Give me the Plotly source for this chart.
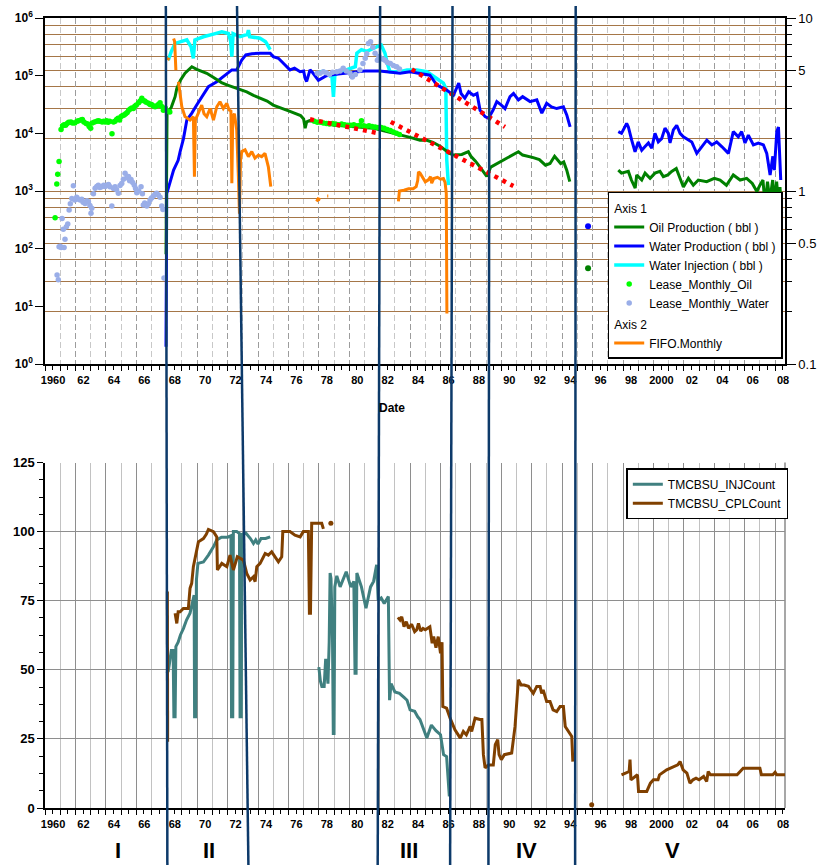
import plotly.graph_objects as go

FONT = "Liberation Sans, Arial, sans-serif"

# ============================ DATA ============================
# ---- Top panel, Axis 1 (log scale, bbl) ----
oil_prod_a = [(1967.95, 80), (1968.02, 22400), (1968.3, 28200), (1968.55, 43200), (1968.66, 60300),
              (1968.9, 83200), (1969.2, 110000), (1969.65, 143000), (1969.97, 129000), (1970.3, 120000),
              (1970.63, 110000), (1971.0, 95500), (1971.29, 84100), (1971.6, 75900), (1971.95, 69200),
              (1972.3, 64600), (1972.6, 60300), (1973.0, 56200), (1973.26, 52500), (1973.7, 45700),
              (1974.13, 40700), (1974.6, 36300), (1975.0, 30900), (1975.35, 28200), (1975.7, 26300),
              (1976.1, 24000), (1976.5, 21900), (1976.8, 20400), (1977.0, 17800), (1977.1, 12300),
              (1977.2, 15800), (1977.4, 16600), (1978.0, 15800), (1978.5, 14800), (1979.0, 13800),
              (1979.5, 13500), (1980.0, 13200), (1980.5, 12900), (1981.15, 12600), (1981.6, 12300),
              (1982.0, 11500), (1982.5, 10700), (1983.0, 10000), (1983.34, 9300), (1984.0, 8500),
              (1984.65, 7600), (1985.1, 7600), (1985.5, 7000), (1986.0, 5900), (1986.6, 4500),
              (1986.85, 4200), (1987.4, 4300), (1987.83, 4800), (1988.0, 4000), (1988.3, 3300),
              (1988.6, 2600), (1989.04, 1800), (1989.3, 2600), (1989.9, 3200), (1990.3, 3600),
              (1990.6, 4000), (1991.12, 4800), (1991.4, 4200), (1991.8, 4000), (1992.1, 3800),
              (1992.5, 3500), (1992.9, 2800), (1993.2, 3000), (1993.5, 4000), (1993.9, 3000),
              (1994.1, 3200), (1994.3, 2300), (1994.5, 1450)]
oil_prod_b = [(1997.69, 2300), (1997.9, 2040), (1998.35, 2190), (1998.55, 1550), (1998.8, 1120),
              (1998.9, 1900), (1999.23, 1550), (1999.45, 2040), (1999.78, 1660), (2000.1, 2040),
              (2000.43, 2190), (2000.65, 1780), (2000.95, 1900), (2001.2, 2190), (2001.5, 2450),
              (2001.75, 1660), (2001.97, 1170), (2002.3, 1660), (2002.62, 1260), (2002.95, 1550),
              (2003.5, 1450), (2004.0, 1660), (2004.38, 1550), (2004.8, 1260), (2005.25, 1900),
              (2005.7, 1550), (2006.13, 1660), (2006.5, 1350), (2006.8, 980), (2007.0, 1260),
              (2007.2, 1550), (2007.34, 575), (2007.5, 1450), (2007.65, 690), (2007.84, 1550),
              (2007.98, 620), (2008.1, 1450), (2008.2, 690), (2008.32, 1170), (2008.43, 410)]
oil_prod_lone = [(1995.7, 46)]

water_prod_a = [(1967.95, 2), (1968.0, 900), (1968.45, 2300), (1968.75, 3400), (1968.88, 4800),
                (1969.1, 8100), (1969.32, 17000), (1969.65, 22400), (1969.97, 30900), (1970.3, 43200),
                (1970.74, 64600), (1971.29, 78500), (1971.83, 102000), (1972.28, 126000), (1972.6, 126000),
                (1972.93, 186000), (1973.2, 229000), (1973.6, 240000), (1974.13, 245000), (1974.8, 245000),
                (1975.0, 214000), (1975.34, 200000), (1975.78, 153000), (1976.1, 126000), (1976.4, 135000),
                (1976.77, 117000), (1977.0, 120000), (1977.1, 89100), (1977.2, 79400), (1977.42, 126000),
                (1977.6, 112000), (1977.97, 83000), (1978.5, 100000), (1979.0, 105000), (1980.0, 112000),
                (1981.0, 120000), (1982.0, 120000), (1983.0, 112000), (1983.34, 110000), (1984.0, 117000),
                (1984.6, 110000), (1985.3, 102000), (1985.75, 69200), (1986.4, 56200), (1986.85, 45700),
                (1987.2, 74100), (1987.35, 49000), (1987.6, 40700), (1987.85, 52500), (1988.16, 45700),
                (1988.4, 49000), (1988.6, 25100), (1988.93, 19500), (1989.15, 18200), (1989.45, 25100),
                (1989.7, 35500), (1990.0, 30900), (1990.24, 26900), (1990.57, 43200), (1990.8, 49000),
                (1991.12, 38000), (1991.4, 43200), (1991.89, 35500), (1992.33, 38000), (1992.66, 22400),
                (1992.98, 33100), (1993.3, 28800), (1993.64, 26900), (1994.08, 28800), (1994.3, 20900),
                (1994.52, 12900)]
water_prod_b = [(1997.69, 10700), (1997.9, 10000), (1998.24, 14800), (1998.35, 12900), (1998.57, 7600),
                (1998.79, 4800), (1999.0, 7100), (1999.23, 5100), (1999.45, 5900), (1999.67, 6800),
                (1999.89, 5500), (2000.1, 10000), (2000.32, 7100), (2000.54, 8100), (2000.76, 12300),
                (2000.98, 10000), (2001.09, 6800), (2001.31, 11500), (2001.53, 13800), (2001.75, 10000),
                (2001.97, 8700), (2002.19, 8100), (2002.52, 7100), (2002.85, 4500), (2003.18, 5900),
                (2003.51, 7600), (2003.84, 6300), (2004.16, 7100), (2004.49, 5900), (2004.93, 4500),
                (2005.25, 10700), (2005.58, 8700), (2005.8, 10700), (2006.02, 6800), (2006.24, 9300),
                (2006.57, 6300), (2006.9, 6800), (2007.23, 6300), (2007.45, 4500), (2007.67, 1900),
                (2007.85, 4000), (2007.95, 2300), (2008.11, 10700), (2008.22, 12900), (2008.37, 1550)]
water_prod_lone = [(1995.7, 245)]

water_inj_a = [(1968.1, 186000), (1968.3, 263000), (1968.55, 363000), (1968.9, 389000), (1969.32, 417000),
               (1969.6, 316000), (1969.75, 200000), (1969.85, 417000), (1970.41, 473000), (1971.07, 525000),
               (1971.62, 575000), (1972.05, 537000), (1972.2, 400000), (1972.28, 214000), (1972.36, 537000),
               (1972.82, 473000), (1973.1, 501000), (1973.3, 520000), (1973.37, 617000), (1973.45, 473000),
               (1974.13, 447000), (1974.5, 389000), (1974.8, 282000)]
water_inj_b = [(1977.9, 112000), (1978.3, 120000), (1978.7, 100000), (1978.85, 110000), (1978.96, 42700),
               (1979.05, 100000), (1979.18, 110000), (1979.8, 126000), (1980.4, 143000), (1980.5, 245000),
               (1980.8, 282000), (1981.15, 263000), (1981.5, 295000), (1981.8, 316000), (1982.1, 339000),
               (1982.35, 245000), (1982.5, 162000), (1982.68, 117000), (1983.34, 117000), (1983.8, 126000),
               (1984.44, 126000), (1985.1, 117000), (1985.75, 89100), (1986.19, 74100), (1986.35, 60300),
               (1986.41, 3470), (1986.52, 1260)]

lease_oil = [(1960.66, 345), (1960.77, 1320), (1960.83, 1950), (1960.92, 3240), (1961.05, 11700),
             (1961.15, 13500), (1961.25, 14100), (1961.35, 13800), (1961.45, 14800), (1961.55, 15500),
             (1961.7, 15800), (1961.8, 15100), (1961.95, 15100), (1962.1, 16200), (1962.2, 16600),
             (1962.35, 17000), (1962.45, 17400), (1962.55, 15800), (1962.7, 14800), (1962.8, 14500),
             (1962.9, 13200), (1963.0, 12300), (1963.1, 15100), (1963.25, 15800), (1963.4, 16200),
             (1963.5, 16600), (1963.6, 16200), (1963.75, 15800), (1963.85, 16200), (1963.95, 15800),
             (1964.05, 16600), (1964.15, 15500), (1964.25, 16200), (1964.4, 9800), (1964.5, 15800),
             (1964.6, 16200), (1964.7, 17400), (1964.8, 18200), (1964.9, 17000), (1965.0, 19500),
             (1965.1, 20400), (1965.2, 20900), (1965.3, 21900), (1965.4, 22900), (1965.5, 25100),
             (1965.6, 26300), (1965.7, 27500), (1965.8, 26900), (1965.9, 29500), (1966.0, 30900),
             (1966.15, 33900), (1966.25, 36300), (1966.36, 40700), (1966.45, 37200), (1966.55, 36300),
             (1966.65, 34700), (1966.8, 33100), (1966.9, 31600), (1967.0, 31600), (1967.1, 30200),
             (1967.23, 28800), (1967.35, 30200), (1967.45, 31600), (1967.56, 33900), (1967.65, 29500),
             (1967.78, 25100), (1967.9, 27500), (1968.05, 24500), (1968.2, 23400),
             (1977.7, 16200), (1977.9, 15500), (1978.1, 15500), (1978.3, 15100), (1978.5, 14800),
             (1978.7, 14500), (1978.9, 14800), (1979.1, 14500), (1979.3, 14100), (1979.5, 14500),
             (1979.7, 14100), (1979.9, 13800), (1980.1, 13800), (1980.3, 14100), (1980.5, 13500),
             (1980.7, 13800), (1980.8, 16600), (1980.95, 13500), (1981.1, 13200), (1981.3, 13500),
             (1981.5, 13200), (1981.7, 12900), (1981.9, 12600), (1982.1, 12600), (1982.3, 12300),
             (1982.5, 11700), (1982.7, 11200), (1982.9, 10500), (1983.1, 10000), (1983.3, 9500)]

lease_water = [(1960.79, 35), (1960.87, 29), (1960.92, 108), (1961.0, 110), (1961.05, 105), (1961.12, 335),
               (1961.2, 217), (1961.25, 105), (1961.31, 145), (1961.4, 240), (1961.49, 268), (1961.58, 468),
               (1961.66, 600), (1961.76, 740), (1961.86, 1230), (1961.95, 700), (1962.08, 780), (1962.2, 720),
               (1962.3, 700), (1962.41, 720), (1962.5, 640), (1962.63, 610), (1962.75, 680), (1962.85, 650),
               (1962.95, 560), (1963.02, 410), (1963.07, 500), (1963.18, 900), (1963.29, 1120), (1963.4, 1200),
               (1963.5, 1260), (1963.6, 1150), (1963.73, 1180), (1963.85, 1260), (1963.95, 1200), (1964.06, 1260),
               (1964.17, 1300), (1964.27, 1180), (1964.39, 550), (1964.5, 1100), (1964.6, 1180), (1964.7, 1050),
               (1964.82, 910), (1964.93, 1250), (1965.04, 1350), (1965.15, 1600), (1965.26, 2040), (1965.37, 1700),
               (1965.48, 1780), (1965.56, 1500), (1965.65, 1590), (1965.76, 1400), (1965.87, 1260), (1965.95, 1100),
               (1966.03, 930), (1966.15, 1000), (1966.31, 1180), (1966.4, 900), (1966.46, 570), (1966.55, 620),
               (1966.69, 550), (1966.8, 600), (1966.9, 700), (1967.0, 760), (1967.12, 820), (1967.23, 880),
               (1967.34, 910), (1967.45, 850), (1967.56, 780), (1967.67, 550), (1967.75, 480), (1967.82, 31),
               (1977.9, 110000), (1978.08, 110000), (1978.3, 117000), (1978.5, 112000), (1978.7, 105000),
               (1978.9, 115000), (1979.18, 117000), (1979.4, 120000), (1979.6, 135000), (1979.8, 120000),
               (1980.05, 110000), (1980.2, 95000), (1980.4, 105000), (1980.7, 126000), (1980.9, 162000),
               (1981.05, 200000), (1981.15, 240000), (1981.26, 363000), (1981.4, 389000), (1981.55, 310000),
               (1981.7, 245000), (1981.85, 186000), (1981.95, 214000), (1982.05, 200000), (1982.2, 195000),
               (1982.35, 186000), (1982.5, 170000), (1982.7, 162000), (1982.9, 150000), (1983.12, 143000),
               (1983.3, 130000)]

# decline trend lines (dotted red)
oil_trend_early = [(1977.42, 17500), (1981.95, 10000)]
oil_trend_late = [(1982.73, 15800), (1990.79, 1220)]
water_trend = [(1984.11, 129000), (1990.24, 12900)]

# ---- Top panel, Axis 2 (log scale 0.1-10) ----
fifo_a = [(1968.06, 5.7), (1968.14, 5.9)]
fifo_b = [(1968.45, 7.6), (1968.52, 7.3), (1968.6, 5.0)]
fifo_c = [(1968.77, 4.28), (1968.99, 3.07), (1969.2, 2.69), (1969.53, 2.57), (1969.75, 2.69), (1969.82, 1.21),
          (1969.88, 2.57), (1970.08, 2.81), (1970.3, 3.14), (1970.45, 2.8), (1970.63, 2.69), (1970.85, 3.0),
          (1971.07, 2.57), (1971.29, 3.07), (1971.5, 3.28), (1971.72, 3.0), (1971.95, 3.21), (1972.1, 2.94),
          (1972.22, 2.9), (1972.28, 1.11), (1972.34, 2.69), (1972.45, 2.8), (1972.6, 2.25), (1972.71, 1.21),
          (1972.78, 0.74), (1972.85, 1.5), (1972.93, 1.69), (1973.15, 1.73), (1973.37, 1.58), (1973.59, 1.69),
          (1973.8, 1.55), (1974.02, 1.61), (1974.24, 1.58), (1974.46, 1.65), (1974.68, 1.38), (1974.84, 1.06)]
fifo_d = [(1977.85, 0.87), (1977.95, 0.9), (1978.1, 0.89)]
fifo_e = [(1978.55, 0.935), (1978.62, 0.935)]
fifo_f = [(1983.23, 0.87), (1983.3, 1.0), (1983.6, 1.01), (1983.9, 1.03), (1984.2, 1.03), (1984.4, 1.06),
          (1984.5, 1.15), (1984.55, 1.29), (1984.65, 1.27), (1984.8, 1.2), (1985.0, 1.13), (1985.2, 1.16),
          (1985.35, 1.21), (1985.42, 1.11), (1985.55, 1.18), (1985.8, 1.2), (1986.0, 1.17), (1986.19, 1.18),
          (1986.3, 1.12), (1986.38, 0.97), (1986.42, 0.196)]

# ---- Bottom panel (counts) ----
inj_count_a = [(1968.0, 48.8), (1968.1, 49.5), (1968.18, 52.4), (1968.3, 57), (1968.42, 57), (1968.47, 33),
               (1968.55, 33), (1968.6, 58.4), (1968.75, 60), (1968.9, 62.6), (1969.1, 65), (1969.3, 68),
               (1969.53, 70.5), (1969.7, 75.3), (1969.8, 77), (1969.83, 33), (1969.9, 33), (1969.95, 82.5),
               (1970.05, 88.5), (1970.41, 89), (1970.74, 91.5), (1971.07, 94.5), (1971.29, 97), (1971.6, 98),
               (1972.0, 98), (1972.22, 98.5), (1972.26, 33), (1972.34, 33), (1972.38, 100), (1972.6, 100),
               (1972.78, 99.3), (1972.82, 33), (1972.9, 33), (1972.94, 99), (1973.2, 99.5), (1973.5, 97.5),
               (1973.7, 95.7), (1973.85, 97), (1974.0, 95.5), (1974.2, 97.5), (1974.5, 97.5), (1974.8, 98.1)]
inj_count_b = [(1978.0, 51), (1978.1, 46), (1978.2, 44), (1978.35, 44), (1978.45, 54), (1978.55, 48),
               (1978.6, 45), (1978.68, 60), (1978.74, 85), (1978.8, 83), (1978.9, 60), (1978.95, 27),
               (1979.0, 27), (1979.05, 80), (1979.18, 84), (1979.4, 80), (1979.6, 83), (1979.8, 85.5),
               (1980.1, 80), (1980.3, 82), (1980.38, 48.8), (1980.45, 48.8), (1980.5, 85), (1980.8, 80),
               (1981.1, 72.3), (1981.4, 80), (1981.6, 82), (1981.8, 88), (1981.9, 75.3), (1982.1, 76),
               (1982.3, 74), (1982.57, 76.5), (1982.65, 39), (1982.75, 45), (1983.0, 42), (1983.3, 41.5),
               (1983.6, 40), (1983.8, 39), (1984.0, 35.5), (1984.3, 35), (1984.5, 33), (1984.65, 32),
               (1985.1, 25.3), (1985.4, 30), (1985.7, 28), (1986.0, 26.5), (1986.2, 19.3), (1986.4, 18.6),
               (1986.58, 4.2)]

cpl_count_a = [(1968.04, 78.3), (1968.06, 24)]
cpl_count_b = [(1968.55, 70.5), (1968.66, 66.8), (1968.75, 71), (1968.88, 71), (1969.09, 72.2), (1969.42, 72.2),
               (1969.53, 79.5), (1969.64, 81.3), (1969.75, 87.3), (1969.86, 90.3), (1970.08, 96.3), (1970.41, 97.5),
               (1970.6, 99), (1970.74, 100.8), (1971.07, 100), (1971.29, 98.1), (1971.33, 86.1), (1971.62, 88.5),
               (1971.95, 87.3), (1972.16, 91.5), (1972.38, 86.1), (1972.64, 90.9), (1973.04, 89.7), (1973.26, 84.9),
               (1973.48, 82.5), (1973.7, 83.7), (1973.81, 81.9), (1973.92, 87.3), (1974.14, 88.5), (1974.47, 92.1),
               (1974.68, 91.5), (1974.9, 92.7), (1975.12, 90.9), (1975.34, 89.1), (1975.56, 90.9), (1975.63, 100),
               (1976.1, 100), (1976.43, 98.7), (1976.77, 98.1), (1976.98, 100), (1977.31, 100), (1977.38, 70.5),
               (1977.45, 70.5), (1977.53, 103), (1978.19, 103), (1978.3, 101)]
cpl_count_c = [(1983.2, 69), (1983.34, 68), (1983.45, 69.2), (1983.6, 65.6), (1983.75, 67.4), (1983.9, 65),
               (1984.1, 66.5), (1984.3, 63.8), (1984.44, 64.5), (1984.55, 66.8), (1984.7, 64), (1984.85, 65),
               (1985.0, 64.5), (1985.3, 65.6), (1985.45, 59.6), (1985.55, 62), (1985.7, 58), (1985.85, 62),
               (1986.0, 56), (1986.1, 60), (1986.15, 36.7), (1986.4, 36.1), (1986.63, 32.5), (1986.95, 28.3),
               (1987.3, 25.3), (1987.5, 27.7), (1987.7, 26.5), (1987.95, 29.5), (1988.05, 27.7), (1988.27, 32.5),
               (1988.6, 32), (1988.72, 32), (1988.82, 19.3), (1988.93, 14.5), (1989.15, 15.6), (1989.47, 15.6),
               (1989.6, 22.9), (1989.76, 24.7), (1989.85, 19.3), (1990.0, 17.5), (1990.2, 19.3), (1990.68, 19.9),
               (1990.9, 29.5), (1991.0, 36.7), (1991.12, 46.4), (1991.3, 44.5), (1991.5, 44.5), (1991.78, 44),
               (1992.1, 41.5), (1992.33, 44), (1992.55, 44), (1992.65, 41.5), (1992.75, 42.7), (1992.98, 38.5),
               (1993.2, 38.5), (1993.4, 35.5), (1993.64, 34.9), (1993.86, 36.7), (1994.08, 36.7), (1994.2, 29.5),
               (1994.41, 27.7), (1994.63, 25.9), (1994.7, 16.8)]
cpl_count_d = [(1997.9, 12), (1998.2, 12.9), (1998.4, 13.2), (1998.46, 17.5), (1998.52, 10.2), (1998.8, 11.4),
               (1998.95, 12), (1999.02, 6), (1999.56, 6), (1999.8, 9), (2000.0, 10.2), (2000.3, 10.2),
               (2000.4, 12), (2000.87, 13.8), (2001.3, 15), (2001.6, 15.6), (2001.75, 16.8), (2001.95, 13.8),
               (2002.2, 12.6), (2002.4, 9), (2002.6, 10.2), (2002.8, 10.8), (2003.0, 10.2), (2003.3, 11.4),
               (2003.5, 9.6), (2003.6, 13.2), (2003.75, 12), (2005.5, 12), (2005.7, 13.2), (2005.9, 14.4),
               (2007.0, 14.4), (2007.1, 12), (2007.85, 12), (2008.0, 12.9), (2008.1, 12), (2008.65, 12)]
cpl_count_lone = [(1978.79, 103), (1995.94, 1.2)]

# ---- axes / annotations ----
label_years = list(range(1960, 2009, 2))
label_text = ["1960" if y == 1960 else ("2000" if y == 2000 else f"{y % 100:02d}") for y in label_years]
odd_years = list(range(1961, 2009, 2))
half_years = [y + 0.5 for y in range(1960, 2009)]
left_log_ticks = [10 ** k for k in range(0, 7)]
left_log_text = [f"10<sup>{k}</sup>" for k in range(0, 7)]
right_ticks = [0.1, 0.5, 1, 5, 10]
right_text = ["0.1", "0.5", "1", "5", "10"]
right_minor = [0.2, 0.3, 0.4, 0.6, 0.7, 0.8, 0.9, 2, 3, 4, 6, 7, 8, 9]
count_ticks = [0, 25, 50, 75, 100, 125]
# period boundary lines: (year at top of figure, year at bottom of figure)
period_lines = [(1967.94, 1968.04), (1972.62, 1973.37), (1982.03, 1981.87),
                (1986.79, 1986.63), (1989.21, 1989.15), (1994.89, 1994.85)]
period_labels = [("I", 1964.8), ("II", 1970.75), ("III", 1983.93), ("IV", 1991.67), ("V", 2001.27)]

X_RANGE = [1959.995, 2008.65]


def join(*segments):
    xs, ys = [], []
    for i, seg in enumerate(segments):
        if i:
            xs.append(None)
            ys.append(None)
        for x, y in seg:
            xs.append(x)
            ys.append(y)
    return xs, ys


fig = go.Figure()

# ---------- top panel traces ----------
x, y = join(water_inj_a, water_inj_b)
fig.add_trace(go.Scatter(x=x, y=y, mode="lines", name="Water Injection ( bbl )",
                         line=dict(color="#00FFFF", width=3.5), legendgroup="a1", legendrank=3))
x, y = join(water_prod_a, water_prod_b)
fig.add_trace(go.Scatter(x=x, y=y, mode="lines", name="Water Production ( bbl )",
                         line=dict(color="#0000FF", width=3), legendgroup="a1", legendrank=2))
x, y = join(oil_prod_a, oil_prod_b)
fig.add_trace(go.Scatter(x=x, y=y, mode="lines", name="Oil Production ( bbl )",
                         line=dict(color="#008000", width=3), legendgroup="a1", legendrank=1,
                         legendgrouptitle=dict(text="Axis 1", font=dict(size=12, family=FONT))))
x, y = join(oil_prod_lone)
fig.add_trace(go.Scatter(x=x, y=y, mode="markers", marker=dict(color="#008000", size=6),
                         showlegend=False))
x, y = join(water_prod_lone)
fig.add_trace(go.Scatter(x=x, y=y, mode="markers", marker=dict(color="#0000FF", size=6),
                         showlegend=False))
x, y = join(lease_oil)
fig.add_trace(go.Scatter(x=x, y=y, mode="markers", name="Lease_Monthly_Oil",
                         marker=dict(color="#00FF00", size=5.5), legendgroup="a1", legendrank=4))
x, y = join(lease_water)
fig.add_trace(go.Scatter(x=x, y=y, mode="markers", name="Lease_Monthly_Water",
                         marker=dict(color="#9AAEE8", size=5.5), legendgroup="a1", legendrank=5))
for seg in (oil_trend_early, oil_trend_late, water_trend):
    x, y = join(seg)
    fig.add_trace(go.Scatter(x=x, y=y, mode="lines", showlegend=False,
                             line=dict(color="#FF0000", width=4.5, dash="4px,5px")))
x, y = join(fifo_a, fifo_b, fifo_c, fifo_d, fifo_e, fifo_f)
fig.add_trace(go.Scatter(x=x, y=y, mode="lines", name="FIFO.Monthly", yaxis="y2",
                         line=dict(color="#FF8000", width=3), legendgroup="a2", legendrank=6,
                         legendgrouptitle=dict(text="Axis 2", font=dict(size=12, family=FONT))))
# tick-only overlay axis carrier
fig.add_trace(go.Scatter(x=[None], y=[None], xaxis="x3", yaxis="y", showlegend=False, hoverinfo="skip"))

# ---------- bottom panel traces ----------
x, y = join(inj_count_a, inj_count_b)
fig.add_trace(go.Scatter(x=x, y=y, mode="lines", name="TMCBSU_INJCount", xaxis="x2", yaxis="y3",
                         line=dict(color="#408080", width=3), legend="legend2"))
x, y = join(cpl_count_a, cpl_count_b, cpl_count_c, cpl_count_d)
fig.add_trace(go.Scatter(x=x, y=y, mode="lines", name="TMCBSU_CPLCount", xaxis="x2", yaxis="y3",
                         line=dict(color="#804000", width=3), legend="legend2"))
x, y = join(cpl_count_lone)
fig.add_trace(go.Scatter(x=x, y=y, mode="markers", xaxis="x2", yaxis="y3", showlegend=False,
                         marker=dict(color="#804000", size=5)))
fig.add_trace(go.Scatter(x=[None], y=[None], xaxis="x4", yaxis="y3", showlegend=False, hoverinfo="skip"))

# ---------- layout ----------
bold11 = dict(family=FONT, size=11, color="black", weight="bold")


def year_axis(anchor, dash, major_grid, minor_grid, mirror):
    return dict(
        domain=[0, 1], anchor=anchor, range=X_RANGE, tickmode="array",
        tickvals=label_years, ticktext=label_text, ticklabelshift=8,
        ticks="outside", ticklen=5, tickcolor="black", tickwidth=1,
        showgrid=True, gridcolor=major_grid, gridwidth=1, griddash=dash,
        minor=dict(tickmode="array", tickvals=odd_years, showgrid=True, gridcolor=minor_grid,
                   griddash=dash, gridwidth=1, ticks="outside", ticklen=5, tickcolor="black"),
        showline=True, linecolor="black", linewidth=1.5, mirror=mirror,
        zeroline=False, tickfont=bold11, automargin=False,
    )


def half_tick_axis(over, anchor):
    return dict(overlaying=over, anchor=anchor, range=X_RANGE, tickmode="array",
                tickvals=half_years, ticks="outside", ticklen=5, tickcolor="black",
                showticklabels=False, showgrid=False, zeroline=False, showline=False)


BROWN = "#A57648"
fig.update_layout(
    width=817, height=865, autosize=False,
    margin=dict(l=45, r=32, t=18, b=57, autoexpand=False),
    paper_bgcolor="white", plot_bgcolor="white",
    font=dict(family=FONT, size=12, color="black"),
    xaxis=year_axis("y", "6px,3px", "#9C9C9C", "#C8C8C8", True),
    xaxis3=half_tick_axis("x", "y"),
    xaxis2=year_axis("y3", "solid", "#8E8E8E", "#C2C2C2", False),
    xaxis4=half_tick_axis("x2", "y3"),
    yaxis=dict(domain=[0.5620, 1], anchor="x", type="log", range=[0, 6],
               tickmode="array", tickvals=left_log_ticks, ticktext=left_log_text,
               ticks="outside", ticklen=8, tickcolor="black", showgrid=False,
               showline=True, linecolor="black", linewidth=1.5, zeroline=False,
               tickfont=dict(family=FONT, size=12, color="black", weight="bold"), automargin=False),
    yaxis2=dict(overlaying="y", side="right", anchor="x", type="log", range=[-1, 1],
                tickmode="array", tickvals=right_ticks, ticktext=right_text,
                ticks="outside", ticklen=9, tickcolor="black",
                showgrid=True, gridcolor=BROWN, gridwidth=1.2,
                minor=dict(tickmode="array", tickvals=right_minor, showgrid=True, gridcolor=BROWN,
                           gridwidth=1.2, ticks="outside", ticklen=5, tickcolor="black"),
                showline=True, linecolor="black", linewidth=1.5, zeroline=False,
                tickfont=dict(family=FONT, size=13, color="black"), automargin=False),
    yaxis3=dict(domain=[0, 0.4373], anchor="x2", range=[0, 125], tickmode="array",
                tickvals=count_ticks, ticks="outside", ticklen=6, tickcolor="black",
                showgrid=True, gridcolor="#8E8E8E", gridwidth=1,
                minor=dict(dtick=6.25, tick0=0, ticks="outside", ticklen=4, tickcolor="black",
                           showgrid=False),
                showline=True, linecolor="black", linewidth=1.5, zeroline=False,
                tickfont=dict(family=FONT, size=13, color="black", weight="bold"), automargin=False),
    legend=dict(x=0.9969, xanchor="right", y=0.5684, yanchor="bottom", bgcolor="white",
                bordercolor="black", borderwidth=1.5, font=dict(family=FONT, size=12),
                traceorder="grouped", tracegroupgap=2, itemwidth=30),
    legend2=dict(x=1.0045, xanchor="right", y=0.430, yanchor="top", bgcolor="white",
                 bordercolor="black", borderwidth=1.5, font=dict(family=FONT, size=12),
                 itemwidth=30),
    showlegend=True,
)

shapes = [
    dict(type="line", xref="x2 domain", yref="y3 domain", x0=1, x1=1, y0=0, y1=1,
         line=dict(color="#8A8A8A", width=1.5), layer="below"),
]
for top_year, bottom_year in period_lines:
    shapes.append(dict(type="line", xref="x", yref="paper", x0=bottom_year, x1=top_year,
                       y0=-0.0722, y1=1.0152, line=dict(color="#0D3A6A", width=2.5)))
fig.update_layout(shapes=shapes)

annotations = [dict(text="Date", xref="paper", yref="paper", x=0.469, y=0.5063, showarrow=False,
                    xanchor="center", yanchor="middle",
                    font=dict(family=FONT, size=12, color="black", weight="bold"))]
for txt, yr in period_labels:
    annotations.append(dict(text=txt, xref="x", yref="paper", x=yr, y=-0.0544, showarrow=False,
                            xanchor="center", yanchor="middle",
                            font=dict(family=FONT, size=22, color="black", weight="bold")))
fig.update_layout(annotations=annotations)

fig.write_html("out.html")
